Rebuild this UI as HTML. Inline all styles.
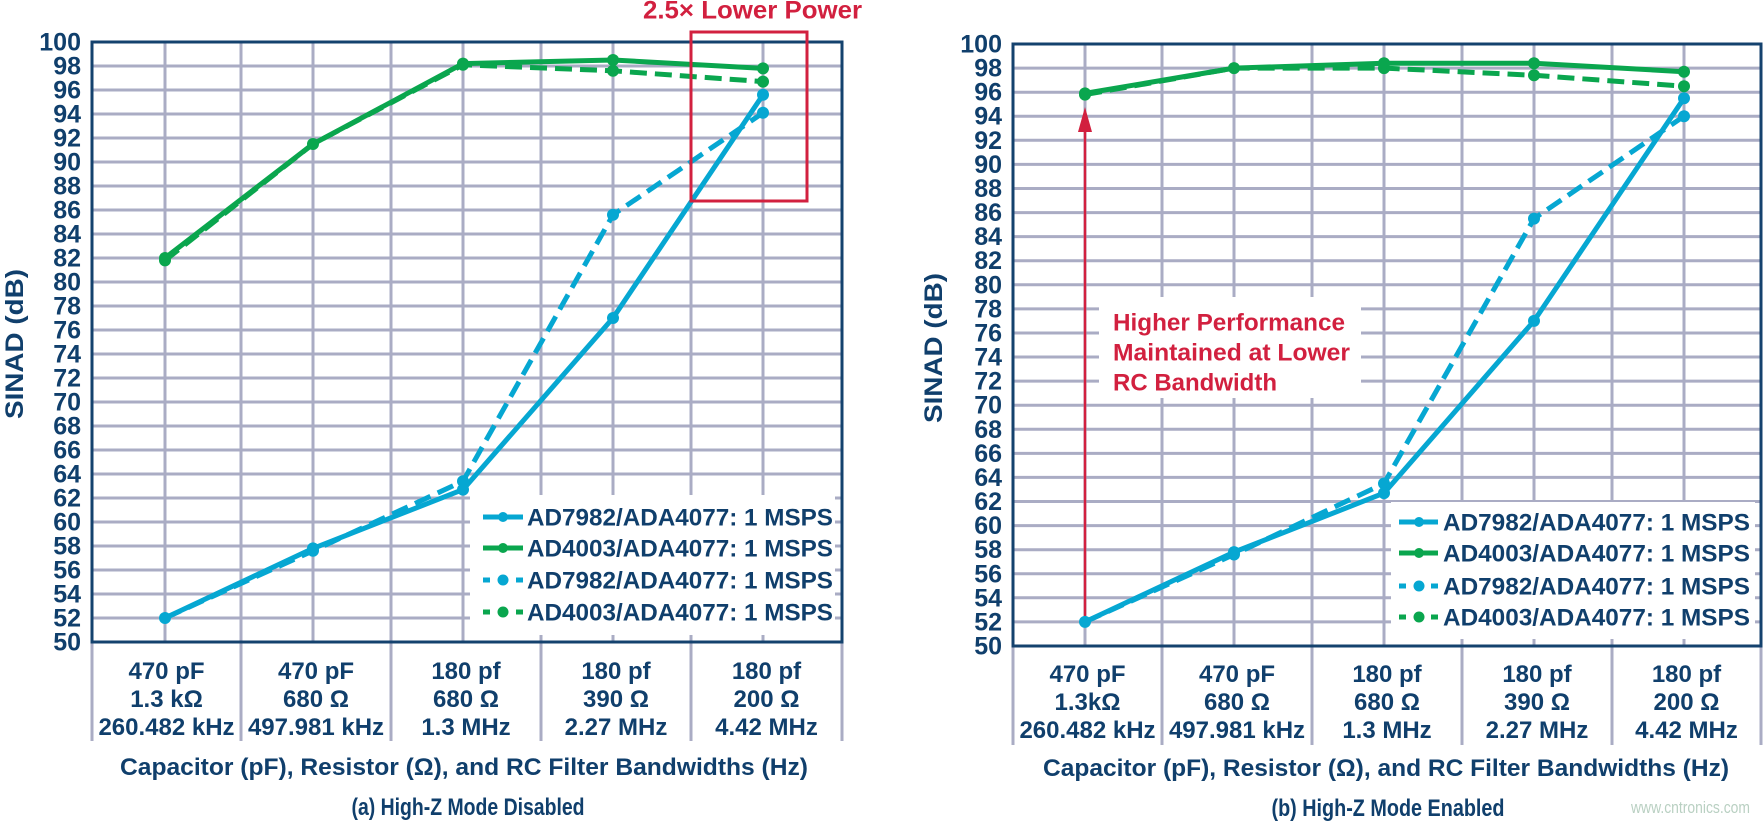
<!DOCTYPE html>
<html><head><meta charset="utf-8"><style>
html,body{margin:0;padding:0;background:#fff;}
svg{display:block;}
text{font-family:"Liberation Sans",Arial,sans-serif;font-weight:bold;}
</style></head><body>
<svg width="1764" height="823" viewBox="0 0 1764 823" xmlns="http://www.w3.org/2000/svg">
<rect width="1764" height="823" fill="#fff"/>

<!-- ================= LEFT CHART ================= -->
<g stroke="#aaacc4" stroke-width="3" fill="none">
<path d="M92 618H842M92 594H842M92 570H842M92 546H842M92 522H842M92 498H842M92 474H842M92 450H842M92 426H842M92 402H842M92 378H842M92 354H842M92 330H842M92 306H842M92 282H842M92 258H842M92 234H842M92 210H842M92 186H842M92 162H842M92 138H842M92 114H842M92 90H842M92 66H842"/>
<path d="M165 42V642M241 42V741M313 42V642M391 42V741M463 42V642M541 42V741M613 42V642M691 42V741M763 42V642M92 642V741M842 642V741"/>
</g>
<!-- legend bg -->
<rect x="470" y="495" width="365" height="140" fill="#fff"/>
<rect x="92" y="42" width="750" height="600" fill="none" stroke="#14426e" stroke-width="3"/>

<!-- series left -->
<g fill="none" stroke-width="5" stroke-linejoin="round">
<polyline points="165,618 313,550.8 463,481.2 613,214.8 763,112.8" stroke="#06a7d2" stroke-dasharray="17 8"/>
<polyline points="165,618 313,548.4 463,489.6 613,318 763,94.8" stroke="#06a7d2"/>
<polyline points="165,260.4 313,144 463,64.8 613,70.8 763,81.6" stroke="#0aa64e" stroke-dasharray="17 8"/>
<polyline points="165,258 313,144 463,63.6 613,60 763,68.4" stroke="#0aa64e"/>
</g>
<g fill="#06a7d2">
<circle cx="165" cy="618" r="6"/><circle cx="313" cy="550.8" r="6"/><circle cx="463" cy="481.2" r="6"/><circle cx="613" cy="214.8" r="6"/><circle cx="763" cy="112.8" r="6"/>
<circle cx="313" cy="548.4" r="6"/><circle cx="463" cy="489.6" r="6"/><circle cx="613" cy="318" r="6"/><circle cx="763" cy="94.8" r="6"/>
</g>
<g fill="#0aa64e">
<circle cx="165" cy="260.4" r="6"/><circle cx="313" cy="144" r="6"/><circle cx="463" cy="64.8" r="6"/><circle cx="613" cy="70.8" r="6"/><circle cx="763" cy="81.6" r="6"/>
<circle cx="165" cy="258" r="6"/><circle cx="463" cy="63.6" r="6"/><circle cx="613" cy="60" r="6"/><circle cx="763" cy="68.4" r="6"/>
</g>

<!-- red box -->
<rect x="691" y="32" width="116" height="169" fill="none" stroke="#d2203f" stroke-width="3"/>
<text x="643" y="18.5" font-size="25" fill="#d2203f" textLength="219" lengthAdjust="spacingAndGlyphs">2.5× Lower Power</text>

<!-- legend left -->
<g stroke-width="5">
<line x1="483" y1="517" x2="523" y2="517" stroke="#06a7d2"/>
<line x1="483" y1="548" x2="523" y2="548" stroke="#0aa64e"/>
<line x1="483" y1="580" x2="490" y2="580" stroke="#06a7d2"/><line x1="516" y1="580" x2="523" y2="580" stroke="#06a7d2"/>
<line x1="483" y1="612" x2="490" y2="612" stroke="#0aa64e"/><line x1="516" y1="612" x2="523" y2="612" stroke="#0aa64e"/>
</g>
<circle cx="503" cy="517" r="5" fill="#06a7d2"/><circle cx="503" cy="548" r="5" fill="#0aa64e"/>
<circle cx="503" cy="580" r="5.5" fill="#06a7d2"/><circle cx="503" cy="612" r="5.5" fill="#0aa64e"/>
<g font-size="24" fill="#103f6c">
<text x="527" y="525.5" textLength="306" lengthAdjust="spacingAndGlyphs">AD7982/ADA4077: 1 MSPS</text>
<text x="527" y="556.5" textLength="306" lengthAdjust="spacingAndGlyphs">AD4003/ADA4077: 1 MSPS</text>
<text x="527" y="588.5" textLength="306" lengthAdjust="spacingAndGlyphs">AD7982/ADA4077: 1 MSPS</text>
<text x="527" y="620.5" textLength="306" lengthAdjust="spacingAndGlyphs">AD4003/ADA4077: 1 MSPS</text>
</g>

<!-- y ticks left -->
<g font-size="25" fill="#103f6c" text-anchor="end">
<text x="81" y="650.5">50</text><text x="81" y="626.5">52</text><text x="81" y="602.5">54</text><text x="81" y="578.5">56</text><text x="81" y="554.5">58</text><text x="81" y="530.5">60</text><text x="81" y="506.5">62</text><text x="81" y="482.5">64</text><text x="81" y="458.5">66</text><text x="81" y="434.5">68</text><text x="81" y="410.5">70</text><text x="81" y="386.5">72</text><text x="81" y="362.5">74</text><text x="81" y="338.5">76</text><text x="81" y="314.5">78</text><text x="81" y="290.5">80</text><text x="81" y="266.5">82</text><text x="81" y="242.5">84</text><text x="81" y="218.5">86</text><text x="81" y="194.5">88</text><text x="81" y="170.5">90</text><text x="81" y="146.5">92</text><text x="81" y="122.5">94</text><text x="81" y="98.5">96</text><text x="81" y="74.5">98</text><text x="81" y="50.5">100</text>
</g>
<text transform="translate(23,344) rotate(-90)" font-size="25" fill="#103f6c" text-anchor="middle" textLength="150" lengthAdjust="spacingAndGlyphs">SINAD (dB)</text>

<!-- x labels left -->
<g font-size="24" fill="#103f6c" text-anchor="middle">
<text x="166.5" y="679">470 pF</text><text x="166.5" y="707">1.3 kΩ</text><text x="166.5" y="735">260.482 kHz</text>
<text x="316" y="679">470 pF</text><text x="316" y="707">680 Ω</text><text x="316" y="735">497.981 kHz</text>
<text x="466" y="679">180 pf</text><text x="466" y="707">680 Ω</text><text x="466" y="735">1.3 MHz</text>
<text x="616" y="679">180 pf</text><text x="616" y="707">390 Ω</text><text x="616" y="735">2.27 MHz</text>
<text x="766.5" y="679">180 pf</text><text x="766.5" y="707">200 Ω</text><text x="766.5" y="735">4.42 MHz</text>
<text x="464" y="775" textLength="688" lengthAdjust="spacingAndGlyphs">Capacitor (pF), Resistor (Ω), and RC Filter Bandwidths (Hz)</text>
<text x="468" y="815" textLength="233" lengthAdjust="spacingAndGlyphs">(a) High-Z Mode Disabled</text>
</g>

<!-- ================= RIGHT CHART ================= -->
<g stroke="#aaacc4" stroke-width="3" fill="none">
<path d="M1013 621.9H1761M1013 597.8H1761M1013 573.8H1761M1013 549.7H1761M1013 525.6H1761M1013 501.5H1761M1013 477.4H1761M1013 453.4H1761M1013 429.3H1761M1013 405.2H1761M1013 381.1H1761M1013 357H1761M1013 333H1761M1013 308.9H1761M1013 284.8H1761M1013 260.7H1761M1013 236.6H1761M1013 212.6H1761M1013 188.5H1761M1013 164.4H1761M1013 140.3H1761M1013 116.2H1761M1013 92.2H1761M1013 68.1H1761"/>
<path d="M1085 44V646M1162 44V745M1234 44V646M1312 44V745M1384 44V646M1462 44V745M1534 44V646M1612 44V745M1684 44V646M1013 646V745M1761 646V745"/>
</g>
<rect x="1391" y="502" width="364" height="137" fill="#fff"/>
<rect x="1099" y="297" width="262" height="101" fill="#fff"/>
<rect x="1013" y="44" width="748" height="602" fill="none" stroke="#14426e" stroke-width="3"/>

<!-- arrow -->
<line x1="1085" y1="622" x2="1085" y2="128" stroke="#d2203f" stroke-width="2.5"/>
<polygon points="1085,107 1078,132 1092,132" fill="#d2203f"/>

<g fill="none" stroke-width="5" stroke-linejoin="round">
<polyline points="1085,621.9 1234,554.5 1384,483.5 1534,218.6 1684,116.2" stroke="#06a7d2" stroke-dasharray="17 8"/>
<polyline points="1085,621.9 1234,552.1 1384,493.1 1534,320.9 1684,98.2" stroke="#06a7d2"/>
<polyline points="1085,94.6 1234,68.1 1384,68.1 1534,75.3 1684,86.2" stroke="#0aa64e" stroke-dasharray="17 8"/>
<polyline points="1085,93.4 1234,68.1 1384,63.3 1534,63.3 1684,71.7" stroke="#0aa64e"/>
</g>
<g fill="#06a7d2">
<circle cx="1085" cy="621.9" r="6"/><circle cx="1234" cy="554.5" r="6"/><circle cx="1384" cy="483.5" r="6"/><circle cx="1534" cy="218.6" r="6"/><circle cx="1684" cy="116.2" r="6"/>
<circle cx="1234" cy="552.1" r="6"/><circle cx="1384" cy="493.1" r="6"/><circle cx="1534" cy="320.9" r="6"/><circle cx="1684" cy="98.2" r="6"/>
</g>
<g fill="#0aa64e">
<circle cx="1085" cy="94.6" r="6"/><circle cx="1234" cy="68.1" r="6"/><circle cx="1384" cy="68.1" r="6"/><circle cx="1534" cy="75.3" r="6"/><circle cx="1684" cy="86.2" r="6"/>
<circle cx="1085" cy="93.4" r="6"/><circle cx="1384" cy="63.3" r="6"/><circle cx="1534" cy="63.3" r="6"/><circle cx="1684" cy="71.7" r="6"/>
</g>

<!-- annotation -->
<g font-size="24" fill="#d2203f">
<text x="1113" y="330.5" textLength="232" lengthAdjust="spacingAndGlyphs">Higher Performance</text>
<text x="1113" y="360.5" textLength="237" lengthAdjust="spacingAndGlyphs">Maintained at Lower</text>
<text x="1113" y="390.5">RC Bandwidth</text>
</g>

<!-- legend right -->
<g stroke-width="5">
<line x1="1399" y1="522" x2="1438" y2="522" stroke="#06a7d2"/>
<line x1="1399" y1="553" x2="1438" y2="553" stroke="#0aa64e"/>
<line x1="1399" y1="586" x2="1406" y2="586" stroke="#06a7d2"/><line x1="1431" y1="586" x2="1438" y2="586" stroke="#06a7d2"/>
<line x1="1399" y1="617" x2="1406" y2="617" stroke="#0aa64e"/><line x1="1431" y1="617" x2="1438" y2="617" stroke="#0aa64e"/>
</g>
<circle cx="1419" cy="522" r="5" fill="#06a7d2"/><circle cx="1419" cy="553" r="5" fill="#0aa64e"/>
<circle cx="1419" cy="586" r="5.5" fill="#06a7d2"/><circle cx="1419" cy="617" r="5.5" fill="#0aa64e"/>
<g font-size="24" fill="#103f6c">
<text x="1443" y="530.5" textLength="307" lengthAdjust="spacingAndGlyphs">AD7982/ADA4077: 1 MSPS</text>
<text x="1443" y="561.5" textLength="307" lengthAdjust="spacingAndGlyphs">AD4003/ADA4077: 1 MSPS</text>
<text x="1443" y="594.5" textLength="307" lengthAdjust="spacingAndGlyphs">AD7982/ADA4077: 1 MSPS</text>
<text x="1443" y="625.5" textLength="307" lengthAdjust="spacingAndGlyphs">AD4003/ADA4077: 1 MSPS</text>
</g>

<!-- y ticks right -->
<g font-size="25" fill="#103f6c" text-anchor="end">
<text x="1002" y="654.5">50</text><text x="1002" y="630.4">52</text><text x="1002" y="606.3">54</text><text x="1002" y="582.3">56</text><text x="1002" y="558.2">58</text><text x="1002" y="534.1">60</text><text x="1002" y="510">62</text><text x="1002" y="485.9">64</text><text x="1002" y="461.9">66</text><text x="1002" y="437.8">68</text><text x="1002" y="413.7">70</text><text x="1002" y="389.6">72</text><text x="1002" y="365.5">74</text><text x="1002" y="341.5">76</text><text x="1002" y="317.4">78</text><text x="1002" y="293.3">80</text><text x="1002" y="269.2">82</text><text x="1002" y="245.1">84</text><text x="1002" y="221.1">86</text><text x="1002" y="197">88</text><text x="1002" y="172.9">90</text><text x="1002" y="148.8">92</text><text x="1002" y="124.7">94</text><text x="1002" y="100.7">96</text><text x="1002" y="76.6">98</text><text x="1002" y="52.5">100</text>
</g>
<text transform="translate(942,348) rotate(-90)" font-size="25" fill="#103f6c" text-anchor="middle" textLength="150" lengthAdjust="spacingAndGlyphs">SINAD (dB)</text>

<!-- x labels right -->
<g font-size="24" fill="#103f6c" text-anchor="middle">
<text x="1087.5" y="682">470 pF</text><text x="1087.5" y="710">1.3kΩ</text><text x="1087.5" y="738">260.482 kHz</text>
<text x="1237" y="682">470 pF</text><text x="1237" y="710">680 Ω</text><text x="1237" y="738">497.981 kHz</text>
<text x="1387" y="682">180 pf</text><text x="1387" y="710">680 Ω</text><text x="1387" y="738">1.3 MHz</text>
<text x="1537" y="682">180 pf</text><text x="1537" y="710">390 Ω</text><text x="1537" y="738">2.27 MHz</text>
<text x="1686.5" y="682">180 pf</text><text x="1686.5" y="710">200 Ω</text><text x="1686.5" y="738">4.42 MHz</text>
<text x="1386" y="776" textLength="686" lengthAdjust="spacingAndGlyphs">Capacitor (pF), Resistor (Ω), and RC Filter Bandwidths (Hz)</text>
<text x="1388" y="816" textLength="233" lengthAdjust="spacingAndGlyphs">(b) High-Z Mode Enabled</text>
</g>

<!-- watermark -->
<text x="1631" y="813" font-size="17" fill="#b9d0c2" style="font-weight:normal" textLength="119" lengthAdjust="spacingAndGlyphs">www.cntronics.com</text>
</svg>
</body></html>
